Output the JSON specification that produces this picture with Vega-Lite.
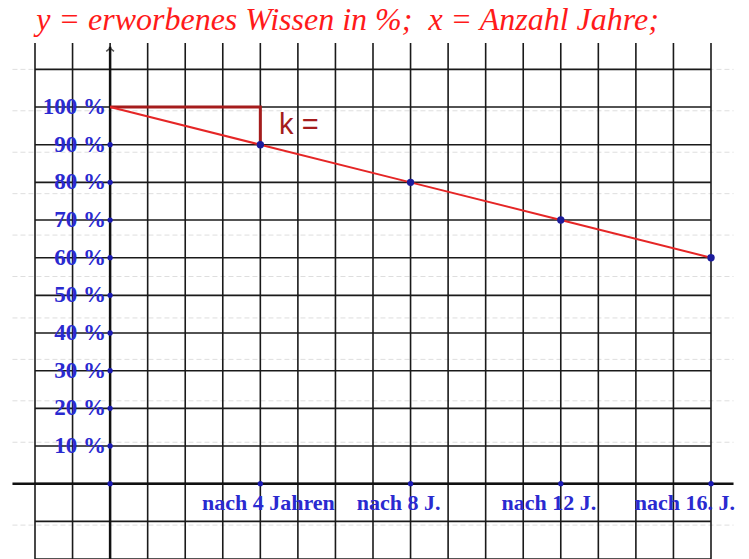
{
  "$schema": "https://vega.github.io/schema/vega-lite/v6.json",
  "width": 676,
  "height": 516,
  "autosize": {"type": "none"},
  "padding": {"left": 35, "top": 43, "right": 38, "bottom": 0},
  "background": "white",
  "title": {
    "text": "y = erworbenes Wissen in %;\u00a0 x = Anzahl Jahre;",
    "anchor": "start",
    "font": "Liberation Serif",
    "fontStyle": "italic",
    "fontWeight": "normal",
    "fontSize": 32,
    "color": "#ff1a1a",
    "baseline": "alphabetic",
    "offset": -20,
    "dx": 25
  },
  "config": {"view": {"stroke": null}},
  "data": {"values": [{}]},
  "datasets": {
    "years": [{"x": -2}, {"x": -1}, {"x": 0}, {"x": 1}, {"x": 2}, {"x": 3}, {"x": 4}, {"x": 5}, {"x": 6}, {"x": 7}, {"x": 8}, {"x": 9}, {"x": 10}, {"x": 11}, {"x": 12}, {"x": 13}, {"x": 14}, {"x": 15}, {"x": 16}],
    "pcts": [{"p": -20}, {"p": -10}, {"p": 0}, {"p": 10}, {"p": 20}, {"p": 30}, {"p": 40}, {"p": 50}, {"p": 60}, {"p": 70}, {"p": 80}, {"p": 90}, {"p": 100}, {"p": 110}],
    "faint": [{"p": -11}, {"p": 11}, {"p": 22}, {"p": 33}, {"p": 44}, {"p": 55}, {"p": 66}, {"p": 77}, {"p": 88}, {"p": 99}, {"p": 110}],
    "ylabels": [{"p": 10, "label": "10 %"}, {"p": 20, "label": "20 %"}, {"p": 30, "label": "30 %"}, {"p": 40, "label": "40 %"}, {"p": 50, "label": "50 %"}, {"p": 60, "label": "60 %"}, {"p": 70, "label": "70 %"}, {"p": 80, "label": "80 %"}, {"p": 90, "label": "90 %"}, {"p": 100, "label": "100 %"}],
    "xlabels": [{"jahre": 4, "label": "nach 4 Jahren"}, {"jahre": 8, "label": "nach 8 J."}, {"jahre": 12, "label": "nach 12 J."}, {"jahre": 16, "label": "nach 16. J."}],
    "wissen": [{"jahre": 0, "wissen": 100}, {"jahre": 4, "wissen": 90}, {"jahre": 8, "wissen": 80}, {"jahre": 12, "wissen": 70}, {"jahre": 16, "wissen": 60}],
    "axisdots": [{"x": 0, "y": 0}, {"x": 4, "y": 0}, {"x": 8, "y": 0}, {"x": 12, "y": 0}, {"x": 16, "y": 0}, {"x": 0, "y": 10}, {"x": 0, "y": 20}, {"x": 0, "y": 30}, {"x": 0, "y": 40}, {"x": 0, "y": 50}, {"x": 0, "y": 60}, {"x": 0, "y": 70}, {"x": 0, "y": 80}, {"x": 0, "y": 90}],
    "steig": [{"jahre": 0, "wissen": 100, "o": 0}, {"jahre": 4, "wissen": 100, "o": 1}, {"jahre": 4, "wissen": 90, "o": 2}]
  },
  "layer": [
    {
      "data": {"name": "faint"},
      "mark": {"type": "rule", "color": "#dedede", "strokeWidth": 1, "strokeDash": [5, 3]},
      "encoding": {
        "x": {"datum": -2.6, "type": "quantitative", "axis": null},
        "x2": {"datum": 16.6},
        "y": {"field": "p", "type": "quantitative", "axis": null}
      }
    },
    {
      "data": {"name": "years"},
      "mark": {"type": "rule", "color": "#1a1a1a", "strokeWidth": 1.6},
      "encoding": {
        "x": {"field": "x", "type": "quantitative", "scale": {"domain": [-2, 16], "nice": false, "zero": false}, "axis": null}
      }
    },
    {
      "data": {"name": "pcts"},
      "mark": {"type": "rule", "color": "#1a1a1a", "strokeWidth": 1.6},
      "encoding": {
        "y": {"field": "p", "type": "quantitative", "scale": {"domain": [-20, 117], "nice": false, "zero": false}, "axis": null}
      }
    },
    {
      "mark": {"type": "rule", "color": "#111111", "strokeWidth": 2.5},
      "encoding": {
        "x": {"datum": 0, "type": "quantitative", "axis": null},
        "y": {"datum": -20, "type": "quantitative", "axis": null},
        "y2": {"datum": 116}
      }
    },
    {
      "mark": {"type": "point", "shape": "M -1 0.8 L 0 0 L 1 0.8", "filled": false, "stroke": "#111111", "strokeWidth": 1.5, "size": 60},
      "encoding": {
        "x": {"datum": 0, "type": "quantitative", "axis": null},
        "y": {"datum": 115.6, "type": "quantitative", "axis": null}
      }
    },
    {
      "mark": {"type": "rule", "color": "#111111", "strokeWidth": 2.5},
      "encoding": {
        "x": {"datum": -2.6, "type": "quantitative", "axis": null},
        "x2": {"datum": 16.6},
        "y": {"datum": 0, "type": "quantitative", "axis": null}
      }
    },
    {
      "data": {"name": "steig"},
      "mark": {"type": "line", "color": "#a51c1c", "strokeWidth": 3},
      "encoding": {
        "x": {"field": "jahre", "type": "quantitative", "axis": null},
        "y": {"field": "wissen", "type": "quantitative", "axis": null},
        "order": {"field": "o"}
      }
    },
    {
      "data": {"name": "wissen"},
      "mark": {"type": "line", "color": "#e52626", "strokeWidth": 2},
      "encoding": {
        "x": {"field": "jahre", "type": "quantitative", "axis": null},
        "y": {"field": "wissen", "type": "quantitative", "axis": null}
      }
    },
    {
      "data": {"name": "axisdots"},
      "mark": {"type": "circle", "color": "#1a1ab4", "opacity": 1, "size": 28},
      "encoding": {
        "x": {"field": "x", "type": "quantitative", "axis": null},
        "y": {"field": "y", "type": "quantitative", "axis": null}
      }
    },
    {
      "data": {"name": "wissen"},
      "transform": [{"filter": "datum.jahre > 0"}],
      "mark": {"type": "circle", "color": "#1c1c9c", "opacity": 1, "size": 55},
      "encoding": {
        "x": {"field": "jahre", "type": "quantitative", "axis": null},
        "y": {"field": "wissen", "type": "quantitative", "axis": null}
      }
    },
    {
      "data": {"name": "ylabels"},
      "mark": {"type": "text", "font": "Liberation Serif", "fontSize": 23, "fontWeight": "bold", "color": "#2a2ad0", "align": "right", "baseline": "middle", "dx": -4},
      "encoding": {
        "x": {"datum": 0, "type": "quantitative", "axis": null},
        "y": {"field": "p", "type": "quantitative", "axis": null},
        "text": {"field": "label"}
      }
    },
    {
      "data": {"name": "xlabels"},
      "mark": {"type": "text", "font": "Liberation Serif", "fontSize": 22, "fontWeight": "bold", "color": "#2a2ad0", "align": {"expr": "datum.jahre == 16 ? 'right' : 'center'"}, "baseline": "middle", "dx": {"expr": "datum.jahre == 4 ? 8 : datum.jahre == 16 ? 24 : -12"}},
      "encoding": {
        "x": {"field": "jahre", "type": "quantitative", "axis": null},
        "y": {"datum": -5, "type": "quantitative", "axis": null},
        "text": {"field": "label"}
      }
    },
    {
      "mark": {"type": "text", "text": "k =", "font": "Liberation Sans", "fontSize": 29, "color": "#a51c1c", "align": "left", "baseline": "middle"},
      "encoding": {
        "x": {"datum": 4.5, "type": "quantitative", "axis": null},
        "y": {"datum": 95.3, "type": "quantitative", "axis": null}
      }
    }
  ]
}
